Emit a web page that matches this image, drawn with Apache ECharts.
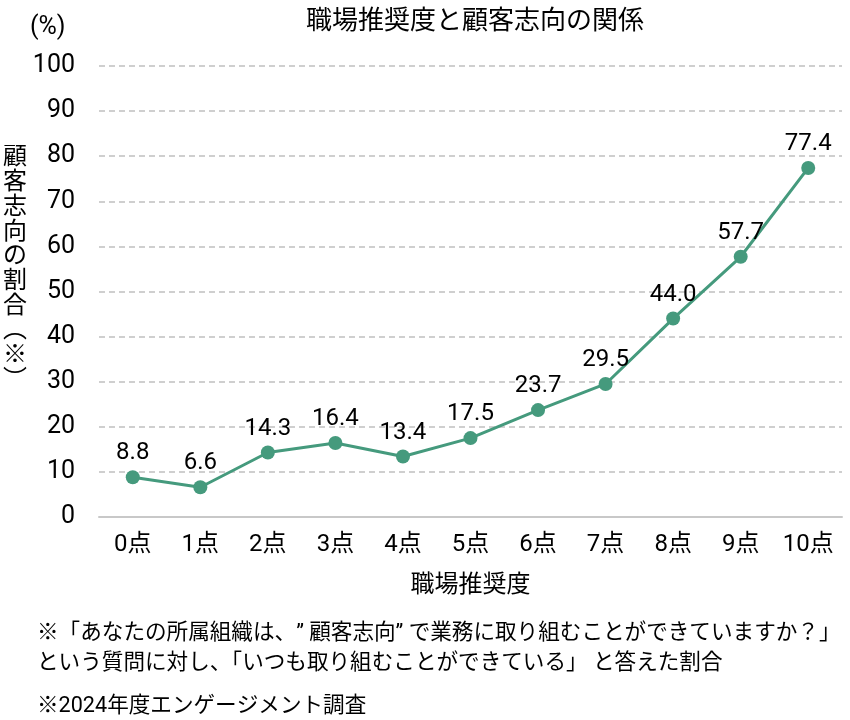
<!DOCTYPE html>
<html>
<head>
<meta charset="utf-8">
<script src="https://cdn.jsdelivr.net/npm/echarts@6/dist/echarts.min.js"></script>
<style>
  html, body { margin: 0; padding: 0; background: #fff; }
  #chart { width: 850px; height: 720px; }
</style>
</head>
<body>
<div id="chart"></div>
<script>
// Roboto for digits, CJK falls through to Noto
var FONT = 'Roboto, "Noto Sans CJK JP", sans-serif';
var CJK = '"Noto Sans CJK JP", sans-serif';

var categories = ['0点', '1点', '2点', '3点', '4点', '5点', '6点', '7点', '8点', '9点', '10点'];
var ratio = [8.8, 6.6, 14.3, 16.4, 13.4, 17.5, 23.7, 29.5, 44.0, 57.7, 77.4];
var yTicks = [0, 10, 20, 30, 40, 50, 60, 70, 80, 90, 100];

var chart = echarts.init(document.getElementById('chart'));

chart.setOption({
  backgroundColor: '#fff',
  textStyle: { fontFamily: FONT, color: '#000' },
  title: {
    text: '職場推奨度と顧客志向の関係',
    left: 470, top: 1, textAlign: 'center',
    textStyle: { fontFamily: CJK, fontSize: 26, fontWeight: 'normal', color: '#000' }
  },
  grid: { left: 99, right: 8, top: 66, bottom: 203 },
  xAxis: {
    type: 'category',
    data: categories,
    name: '職場推奨度',
    nameLocation: 'middle',
    nameGap: 54,
    nameTextStyle: { fontFamily: CJK, fontSize: 24, color: '#000' },
    axisLine: { lineStyle: { color: '#c8c8c8', width: 2 } },
    axisTick: { show: false },
    axisLabel: { interval: 0, fontFamily: FONT, fontSize: 24, color: '#000', margin: 16 }
  },
  yAxis: {
    type: 'value',
    min: yTicks[0], max: yTicks[yTicks.length - 1], interval: 10,
    axisLine: { show: false },
    axisTick: { show: false },
    axisLabel: { fontFamily: FONT, fontSize: 25, color: '#000', margin: 24 },
    splitLine: { lineStyle: { color: '#c0c0c0', type: [6, 4], width: 1.5 } }
  },
  series: [{
    type: 'line',
    data: ratio,
    symbol: 'circle',
    symbolSize: 14,
    lineStyle: { color: '#459a7d', width: 3 },
    itemStyle: { color: '#459a7d' },
    label: {
      show: true, position: 'top', distance: 5,
      fontFamily: FONT, fontSize: 24, color: '#000',
      formatter: function (p) { return p.value.toFixed(1); }
    }
  }],
  graphic: [
    { type: 'text', left: 30, top: 15,
      style: { text: '(%)', font: '25px ' + FONT, fill: '#000' } },
    { type: 'text', left: 3, top: 143,
      style: { text: '顧\n客\n志\n向\nの\n割\n合\n︵\n※\n︶', font: '24px ' + CJK,
               lineHeight: 24.7, fill: '#000', align: 'left' } },
    { type: 'text', left: 37, top: 623,
      style: { text: '※「あなたの所属組織は、” 顧客志向” で業務に取り組むことができていますか？」', font: '21.6px ' + FONT, fill: '#000' } },
    { type: 'text', left: 37, top: 653,
      style: { text: 'という質問に対し、「いつも取り組むことができている」 と答えた割合', font: '21.6px ' + FONT, fill: '#000' } },
    { type: 'text', left: 37, top: 696,
      style: { text: '※2024年度エンゲージメント調査', font: '21.6px ' + FONT, fill: '#000' } }
  ]
});
</script>
</body>
</html>
